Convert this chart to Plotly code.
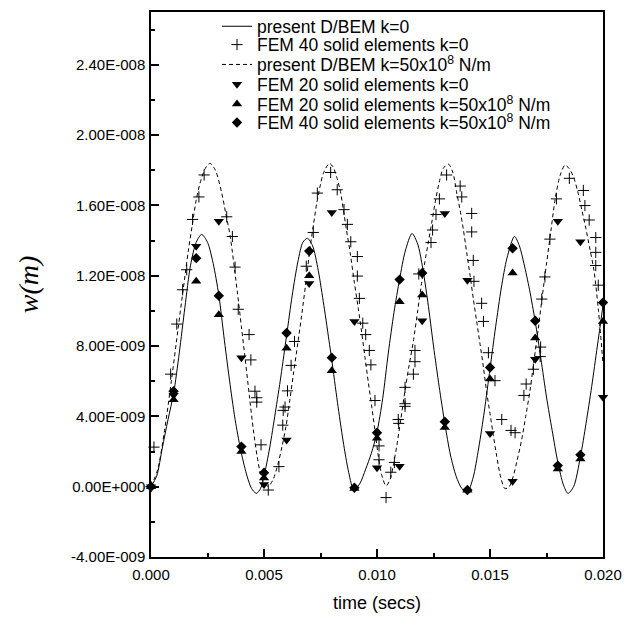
import plotly.graph_objects as go

# ---------------- data (time in ms, displacement in 1e-9 m) ----------------
bem_k0_t = [0.0, 0.25, 0.5, 0.75, 1.0, 1.25, 1.5, 1.75, 2.0, 2.24, 2.5, 2.75, 3.0, 3.25, 3.5, 3.75,
            4.0, 4.25, 4.45, 4.66, 4.85, 5.0, 5.25, 5.5, 5.75, 6.0, 6.25, 6.5, 6.72, 6.92, 7.15, 7.4,
            7.65, 7.9, 8.0, 8.25, 8.5, 8.75, 8.98, 9.25, 9.5, 9.75, 10.0, 10.25, 10.5, 10.75, 11.0,
            11.25, 11.55, 11.8, 12.0, 12.25, 12.5, 12.75, 13.0, 13.25, 13.5, 13.75, 14.0, 14.25, 14.5,
            14.75, 15.0, 15.25, 15.5, 15.75, 16.08, 16.3, 16.5, 16.75, 17.0, 17.25, 17.5, 17.75, 18.0,
            18.25, 18.45, 18.7, 19.0, 19.25, 19.5, 19.75, 20.0]
bem_k0_w = [0.0, 0.6, 2.2, 3.8, 5.3, 7.6, 10.2, 12.6, 13.9, 14.35, 13.9, 12.7, 10.9, 8.3, 5.8, 3.6,
            1.9, 0.6, -0.1, -0.38, -0.1, 0.6, 2.2, 4.2, 6.3, 8.6, 10.9, 12.8, 13.9, 14.13, 13.7, 12.3,
            10.3, 8.1, 7.2, 4.8, 2.6, 0.8, -0.2, 0.2, 1.0, 1.9, 3.1, 5.0, 7.6, 9.9, 11.8,
            13.4, 14.4, 13.8, 12.6, 10.5, 8.0, 5.7, 3.6, 1.8, 0.6, -0.1, -0.3, 0.5, 2.2,
            4.3, 6.7, 9.1, 11.3, 13.0, 14.23, 13.7, 12.7, 11.2, 9.4, 7.3, 5.1, 3.2, 1.4,
            0.1, -0.38, 0.0, 1.7, 3.6, 5.7, 8.0, 10.3]

bem_k50_t = [0.0, 0.3, 0.6, 0.9, 1.2, 1.43, 1.65, 1.84, 2.0, 2.17, 2.4, 2.61, 2.85, 3.13, 3.3, 3.5,
             3.82, 4.0, 4.16, 4.35, 4.53, 4.7, 4.85, 5.0, 5.19, 5.4, 5.63, 5.8, 5.97, 6.15, 6.3, 6.5,
             6.67, 6.89, 7.04, 7.2, 7.33, 7.5, 7.62, 7.89, 8.05, 8.22, 8.38, 8.51, 8.65, 8.81, 9.0,
             9.17, 9.32, 9.47, 9.62, 9.77, 9.92, 10.06, 10.2, 10.4, 10.58, 10.72, 10.87, 11.05, 11.24,
             11.42, 11.61, 11.8, 11.98, 12.12, 12.27, 12.42, 12.57, 12.75, 12.93, 13.16, 13.35, 13.53,
             13.68, 13.82, 13.97, 14.12, 14.26, 14.41, 14.56, 14.71, 14.85, 15.0, 15.15, 15.3, 15.48,
             15.66, 15.85, 16.03, 16.2, 16.4, 16.58, 16.77, 16.95, 17.14, 17.32, 17.51, 17.7, 17.88,
             18.1, 18.32, 18.5, 18.69, 18.88, 19.06, 19.24, 19.42, 19.6, 19.8, 20.0]
bem_k50_w = [0.0, 1.0, 3.2, 6.0, 9.0, 11.27, 13.4, 15.0, 16.3, 17.26, 18.1, 18.39, 18.0, 16.7, 15.6, 14.27,
             11.08, 9.1, 7.34, 5.2, 3.22, 1.7, 0.7, 0.2, 0.03, 0.4, 1.35, 2.3, 3.4, 5.0, 6.4, 8.2,
             9.78, 12.0, 13.6, 15.0, 16.1, 17.2, 17.8, 18.39, 18.2, 17.6, 16.8, 15.76, 14.6, 13.33, 11.6,
             10.15, 8.8, 7.34, 5.9, 4.53, 3.1, 1.72, 0.7, 0.05, 0.41, 1.2, 2.28, 3.8, 5.47,
             6.9, 8.28, 10.0, 11.65, 12.8, 13.9, 15.0, 16.14, 17.3, 18.1, 18.35, 17.9, 16.7,
             15.7, 14.64, 13.3, 12.0, 10.7, 9.4, 8.1, 6.78, 5.4, 4.16, 2.9, 1.72, 0.5,
             -0.11, 0.0, 0.6, 1.5, 2.66, 4.0, 5.47, 7.2, 9.02, 10.9, 12.77, 14.6, 16.33,
             17.7, 18.29, 18.1, 17.64, 16.8, 15.76, 14.7, 13.52, 12.3, 10.0, 7.0]

fem40_k0_t = [0.0, 0.13, 0.87, 1.14, 1.40, 1.58, 1.84, 2.12, 2.35, 3.35, 3.60, 3.72, 3.86, 4.34, 4.42,
              4.60, 4.68, 4.68, 4.87, 5.19, 5.66, 5.83, 5.85, 5.93, 6.04, 6.20, 6.35, 6.87, 7.18, 7.36,
              7.95, 8.24, 8.54, 8.69, 8.84, 9.13, 9.13, 9.22, 9.37, 9.50, 9.66, 9.73, 9.91, 10.09, 10.09,
              10.40, 10.61, 10.77, 10.94, 10.96, 11.24, 11.24, 11.24, 11.61, 11.68, 11.68, 11.85, 12.39,
              12.46, 12.61, 12.76, 13.08, 13.68, 13.75, 14.19, 14.19, 14.26, 14.29, 14.63, 14.71, 14.93,
              15.22, 15.52, 15.93, 16.11, 16.50, 16.60, 16.92, 17.22, 17.24, 17.29, 17.43, 17.65, 17.94,
              18.51, 19.13, 19.20, 19.39, 19.68, 19.68, 19.68, 19.79]
fem40_k0_w = [0.0, 2.25, 6.4, 9.25, 11.2, 12.34, 15.2, 16.48, 17.73, 15.35, 14.23, 12.49, 10.09, 8.65, 7.21,
              5.43, 5.06, 4.81, 2.38, -0.19, 1.14, 3.5, 4.34, 4.53, 5.45, 6.9, 8.26, 12.54, 14.46, 16.7,
              17.87, 16.89, 15.76, 14.92, 13.93, 13.09, 11.98, 10.71, 9.3, 8.65, 7.75, 6.93, 4.9, 2.32, 1.53,
              -0.62, 0.82, 1.38, 3.82, 3.6, 4.72, 4.57, 5.65, 6.4, 7.11, 7.75, 12.1, 13.89,
              14.6, 15.48, 16.37, 17.73, 17.1, 16.48, 15.54, 14.49, 12.87, 11.68, 10.43, 9.4, 7.62,
              6.03, 3.82, 3.2, 3.07, 5.19, 5.84, 6.68, 7.4, 7.94, 10.67, 11.93, 14.08, 16.37,
              17.54, 16.85, 15.99, 15.17, 14.17, 13.33, 12.58, 11.46]

fem_t = [0, 1, 2, 3, 4, 5, 6, 7, 8, 9, 10, 11, 12, 13, 14, 15, 16, 17, 18, 19, 20]
fem20_k0_w = [0.0, 5.2, 13.67, 15.1, 7.34, 0.13, 2.66, 11.55, 15.6, 9.4, 1.07, 1.16, 9.44, 15.54,
              11.74, 3.03, 0.31, 7.25, 15.1, 13.93, 5.09]
fem20_k50_w = [0.0, 4.94, 11.68, 9.78, 2.0, 0.5, 7.87, 12.0, 6.59, -0.1, 2.75, 10.52, 10.9, 3.37,
               -0.2, 6.12, 12.15, 8.46, 1.0, 1.57, 9.4]
fem40_k50_w = [0.0, 5.43, 13.0, 10.86, 2.28, 0.79, 8.74, 13.4, 7.34, -0.06, 3.07, 11.78, 12.15, 3.69,
               -0.19, 6.78, 13.56, 9.44, 1.2, 1.81, 10.47]

y_tickvals = [-4, 0, 4, 8, 12, 16, 20, 24]
y_ticktext = ["-4.00E-009", "0.00E+000", "4.00E-009", "8.00E-009", "1.20E-008",
              "1.60E-008", "2.00E-008", "2.40E-008"]
x_tickvals = [0.0, 5.0, 10.0, 15.0, 20.0]

legend_names = ["present D/BEM k=0",
                "FEM 40 solid elements k=0",
                "present D/BEM k=50x10<sup>8</sup> N/m",
                "FEM 20 solid elements k=0",
                "FEM 20 solid elements k=50x10<sup>8</sup> N/m",
                "FEM 40 solid elements k=50x10<sup>8</sup> N/m"]

MS = 1e-3   # ms -> s
NM = 1e-9   # unit of displacement values


def sec(ts):
    return [t * MS for t in ts]


def met(ws):
    return [w * NM for w in ws]


FONT = "Liberation Sans, Arial, sans-serif"
BLACK = "black"

# figure geometry (pixels; the page adds an 8px body margin on the top/left)
W, H = 626, 610
ML, MR, MT, MB = 143, 31, 0, 60.5
PH = H - MT - MB
LEG_CENTERS_PX = [14.5, 33, 53, 73, 93, 111.5]   # legend box centres (from top of figure)
LEG_LEFT_PX = 209

fig = go.Figure()

fig.add_trace(go.Scatter(
    x=sec(bem_k0_t), y=met(bem_k0_w), mode="lines", name=legend_names[0], legend="legend",
    line=dict(color=BLACK, width=1, shape="spline", smoothing=0.8)))
fig.add_trace(go.Scatter(
    x=sec(fem40_k0_t), y=met(fem40_k0_w), mode="markers", name=legend_names[1], legend="legend2",
    marker=dict(symbol="cross-thin", size=8, line=dict(color=BLACK, width=1), color=BLACK),
    cliponaxis=False))
fig.add_trace(go.Scatter(
    x=sec(bem_k50_t), y=met(bem_k50_w), mode="lines", name=legend_names[2], legend="legend3",
    line=dict(color=BLACK, width=1, dash="4px,3px", shape="spline", smoothing=0.8)))
fig.add_trace(go.Scatter(
    x=sec(fem_t), y=met(fem20_k0_w), mode="markers", name=legend_names[3], legend="legend4",
    marker=dict(symbol="triangle-down", size=9, color=BLACK), cliponaxis=False))
fig.add_trace(go.Scatter(
    x=sec(fem_t), y=met(fem20_k50_w), mode="markers", name=legend_names[4], legend="legend5",
    marker=dict(symbol="triangle-up", size=9, color=BLACK), cliponaxis=False))
fig.add_trace(go.Scatter(
    x=sec(fem_t), y=met(fem40_k50_w), mode="markers", name=legend_names[5], legend="legend6",
    marker=dict(symbol="diamond", size=8, color=BLACK), cliponaxis=False))

legend_layout = {}
for i, cy in enumerate(LEG_CENTERS_PX):
    key = "legend" if i == 0 else f"legend{i + 1}"
    legend_layout[key] = dict(
        x=(LEG_LEFT_PX - ML) / (W - ML - MR), y=(H - MB - cy) / PH,
        xanchor="left", yanchor="middle",
        bgcolor="rgba(0,0,0,0)", borderwidth=0,
        font=dict(family=FONT, size=17.5, color=BLACK))

fig.update_layout(
    width=W, height=H,
    margin=dict(l=ML, r=MR, t=MT, b=MB, pad=0),
    paper_bgcolor="white", plot_bgcolor="white",
    font=dict(family=FONT, color=BLACK, size=15),
    showlegend=True,
    **legend_layout,
)

fig.update_xaxes(
    range=[0, 0.020], tickvals=sec(x_tickvals), tickformat=".3f",
    showgrid=False, zeroline=False, automargin=False,
    showline=True, linecolor=BLACK, linewidth=1.5, mirror=True,
    ticks="inside", ticklen=8, tickwidth=1.5, tickcolor=BLACK,
    ticklabelstandoff=3,
    minor=dict(dtick=0.0025, ticks="inside", ticklen=4, tickwidth=1.5, tickcolor=BLACK, showgrid=False),
    tickfont=dict(family=FONT, size=15, color=BLACK),
    title=dict(text="time (secs)", font=dict(family=FONT, size=18, color=BLACK), standoff=15),
)
fig.update_yaxes(
    range=[-4e-9, 2.7e-8], tickvals=met(y_tickvals), ticktext=y_ticktext,
    showgrid=False, zeroline=False, automargin=False,
    showline=True, linecolor=BLACK, linewidth=1.5, mirror=True,
    ticks="inside", ticklen=8, tickwidth=1.5, tickcolor=BLACK,
    ticklabelstandoff=1,
    minor=dict(dtick=2e-9, tick0=0, ticks="inside", ticklen=4, tickwidth=1.5, tickcolor=BLACK, showgrid=False),
    tickfont=dict(family=FONT, size=15, color=BLACK),
    title=dict(text="<i>w(m)</i>", font=dict(family="Liberation Serif, Times New Roman, serif",
                                              size=28, color=BLACK), standoff=24),
)

fig.write_html("out.html")
